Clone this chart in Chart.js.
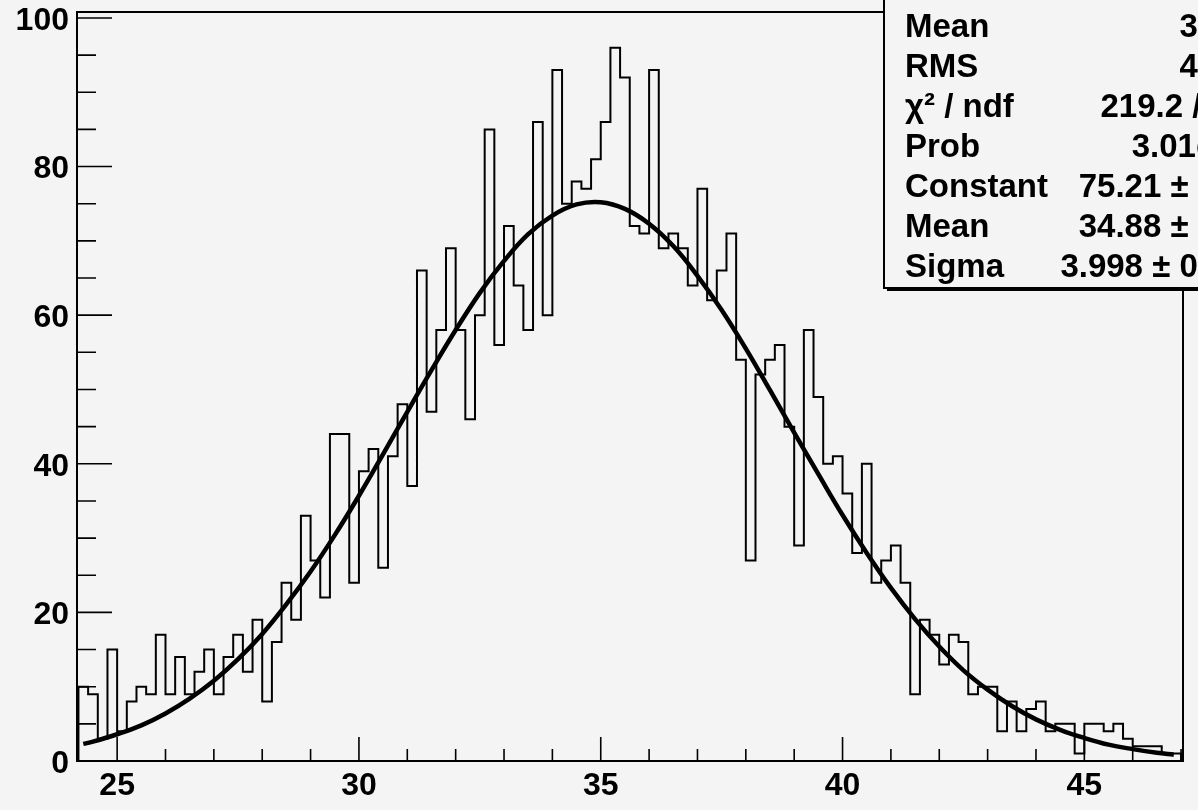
<!DOCTYPE html>
<html>
<head>
<meta charset="utf-8">
<title>Histogram with Gaussian fit</title>
<script src="https://cdn.jsdelivr.net/npm/chart.js"></script>
<style>
  html, body { margin: 0; padding: 0; background: #f4f4f4; }
</style>
</head>
<body>
<canvas id="chart" width="1198" height="810"></canvas>
<script>
// histogram: 114 bins of width 0.2 starting at 24.2
var binStart = 24.2;
var binWidth = 0.2;
var counts = [
  10, 9, 3, 15, 4, 8, 10, 9, 17, 9,
  14, 9, 12, 15, 9, 14, 17, 12, 19, 8,
  16, 24, 19, 33, 27, 22, 44, 44, 24, 39,
  42, 26, 41, 48, 37, 66, 47, 58, 69, 58,
  46, 60, 85, 56, 72, 64, 58, 86, 60, 93,
  75, 78, 77, 81, 86, 96, 92, 72, 71, 93,
  69, 71, 69, 64, 77, 62, 66, 71, 54, 27,
  52, 54, 56, 45, 29, 58, 49, 40, 41, 36,
  28, 40, 24, 27, 29, 24, 9, 19, 17, 13,
  17, 16, 9, 10, 10, 4, 8, 4, 7, 8,
  4, 5, 5, 1, 5, 5, 4, 5, 3, 2,
  2, 2, 1, 1
];

// gaus fit curve
var fitX = [24.3, 24.5, 25, 25.5, 26, 26.5, 27, 27.5, 28, 28.5, 29, 29.5, 30, 30.5, 31, 31.5,
            32, 32.5, 33, 33.5, 34, 34.5, 35, 35.5, 36, 36.5, 37, 37.5, 38, 38.5, 39, 39.5,
            40, 40.5, 41, 41.5, 42, 42.5, 43, 43.5, 44, 44.5, 45, 45.5, 46, 46.5, 46.85];
var fitY = [2.3, 2.6, 3.6, 4.8, 6.4, 8.4, 10.8, 13.7, 17.1, 21.1, 25.5, 30.4, 35.7, 41.3, 47.0, 52.6,
            58.0, 63.0, 67.3, 70.9, 73.4, 74.9, 75.2, 74.3, 72.3, 69.3, 65.3, 60.7, 55.5, 49.9, 44.2, 38.6,
            33.1, 28.0, 23.3, 19.1, 15.4, 12.2, 9.6, 7.4, 5.6, 4.2, 3.1, 2.2, 1.6, 1.1, 0.85];

var xTicks = [25, 30, 35, 40, 45];
var yTicks = [0, 20, 40, 60, 80, 100];

var statNames = ['Mean', 'RMS', 'χ² / ndf', 'Prob', 'Constant', 'Mean', 'Sigma'];
var statValues = ['34.86', '4.058', '219.2 / 111', '3.01e-16', '75.21 ± 2.82', '34.88 ± 0.04', '3.998 ± 0.033'];

var FAMILY = "'Liberation Sans', Arial, sans-serif";

var histPoints = [{x: binStart, y: 0}];
for (var i = 0; i < counts.length; i++) {
    histPoints.push({x: binStart + i * binWidth, y: counts[i]});
}
histPoints.push({x: binStart + counts.length * binWidth, y: 0});

var fitPoints = fitX.map(function(x, i) { return {x: x, y: fitY[i]}; });

var rootStyle = {
    id: 'rootStyle',
    afterDatasetsDraw: function(chart) {
        var ctx = chart.ctx;
        var a = chart.chartArea;
        var xs = chart.scales.x, ys = chart.scales.y;
        ctx.save();
        ctx.strokeStyle = '#000';
        ctx.lineWidth = 2;
        ctx.strokeRect(a.left, a.top, a.right - a.left, a.bottom - a.top);
        ctx.lineWidth = 1.6;
        ctx.beginPath();
        for (var v = Math.ceil(xs.min); v < xs.max; v++) {
            var px = xs.getPixelForValue(v);
            var len = (v % 5 === 0) ? 24 : 12;
            ctx.moveTo(px, a.bottom);
            ctx.lineTo(px, a.bottom - len);
        }
        for (var w = 0; w < ys.max; w += 5) {
            var py = ys.getPixelForValue(w);
            var l2 = (w % 20 === 0) ? 35 : 19;
            ctx.moveTo(a.left, py);
            ctx.lineTo(a.left + l2, py);
        }
        ctx.stroke();
        ctx.restore();
    },
    afterDraw: function(chart) {
        var ctx = chart.ctx;
        ctx.save();
        var bx = 884, by = -4, bw = 420, bh = 292;
        ctx.fillStyle = '#000';
        ctx.fillRect(bx + 3, by + 3, bw, bh);
        ctx.fillStyle = '#f4f4f4';
        ctx.fillRect(bx, by, bw, bh);
        ctx.strokeStyle = '#000';
        ctx.lineWidth = 2;
        ctx.strokeRect(bx, by, bw, bh);
        ctx.fillStyle = '#000';
        ctx.font = 'bold 33px ' + FAMILY;
        ctx.textBaseline = 'alphabetic';
        for (var i = 0; i < statNames.length; i++) {
            var base = 37 + i * 40;
            ctx.textAlign = 'left';
            ctx.fillText(statNames[i], 905, base);
            ctx.textAlign = 'right';
            ctx.fillText(statValues[i], 1262, base);
        }
        ctx.restore();
    }
};

var ctx = document.getElementById('chart').getContext('2d');
var chart = new Chart(ctx, {
    type: 'line',
    data: {
        datasets: [{
            label: 'hist',
            data: histPoints,
            stepped: 'before',
            borderColor: '#000',
            borderWidth: 2,
            pointRadius: 0,
            fill: false
        }, {
            label: 'gaus',
            data: fitPoints,
            borderColor: '#000',
            borderWidth: 4.5,
            pointRadius: 0,
            tension: 0.4,
            fill: false
        }]
    },
    options: {
        responsive: false,
        animation: false,
        devicePixelRatio: 1,
        layout: { padding: { top: 12, right: 15, left: 0, bottom: 0 } },
        plugins: { legend: { display: false }, tooltip: { enabled: false } },
        scales: {
            x: {
                type: 'linear',
                min: 24.17,
                max: 47.04,
                afterBuildTicks: function(s) { s.ticks = xTicks.map(function(v) { return {value: v}; }); },
                afterFit: function(s) { s.height = 49; s.paddingLeft = 0; s.paddingRight = 0; },
                grid: { display: false, drawTicks: false },
                border: { display: false },
                ticks: {
                    color: '#000',
                    padding: 6,
                    maxRotation: 0,
                    autoSkip: false,
                    font: { family: FAMILY, size: 32, weight: 'bold' }
                }
            },
            y: {
                min: 0,
                max: 100.8,
                afterBuildTicks: function(s) { s.ticks = yTicks.map(function(v) { return {value: v}; }); },
                afterFit: function(s) { s.width = 77; s.paddingTop = 0; s.paddingBottom = 0; },
                grid: { display: false, drawTicks: false },
                border: { display: false },
                ticks: {
                    color: '#000',
                    padding: 8,
                    labelOffset: 3,
                    autoSkip: false,
                    font: { family: FAMILY, size: 32, weight: 'bold' }
                }
            }
        }
    },
    plugins: [rootStyle]
});
</script>
</body>
</html>
